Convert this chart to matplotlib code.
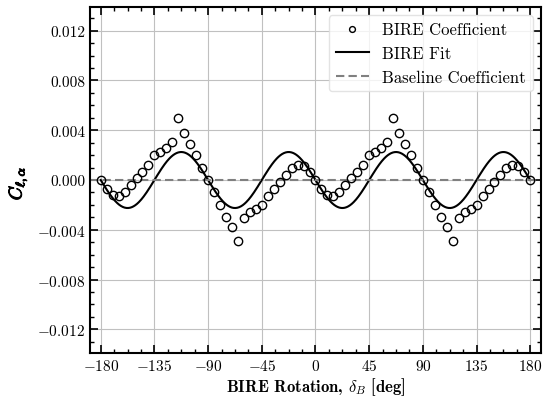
import matplotlib.pyplot as plt
import matplotlib.patheffects as pe
import numpy as np
from matplotlib.ticker import MultipleLocator

plt.rcParams["font.family"] = "serif"
plt.rcParams["font.serif"] = ["cmr10"]
plt.rcParams["mathtext.fontset"] = "cm"
plt.rcParams["axes.formatter.use_mathtext"] = True
plt.rcParams["axes.unicode_minus"] = True

# BIRE rotation angle [deg], one point every 5 deg
delta_b = np.arange(-180, 181, 5)

c_bire = [
    0.0, -0.00072, -0.00118, -0.00129, -0.00099, -0.00043, 0.00014, 0.00067,
    0.00121, 0.00198, 0.00225, 0.00258, 0.00303, 0.00502, 0.00378, 0.00293,
    0.00199, 0.00097, 0.0, -0.00099, -0.00199, -0.00295, -0.00378, -0.00494,
    -0.00306, -0.00255, -0.00233, -0.00201, -0.00126, -0.00072, -0.00019,
    0.00043, 0.00097, 0.00123, 0.0011, 0.00067,
    0.0, -0.00072, -0.00118, -0.00129, -0.00099, -0.00043, 0.00014, 0.00067,
    0.00121, 0.00198, 0.00225, 0.00258, 0.00303, 0.00502, 0.00378, 0.00293,
    0.00199, 0.00097, 0.0, -0.00099, -0.00199, -0.00295, -0.00378, -0.00494,
    -0.00306, -0.00255, -0.00233, -0.00201, -0.00126, -0.00072, -0.00019,
    0.00043, 0.00097, 0.00123, 0.0011, 0.00067, 0.0,
]

# fit: C = -A sin(4 delta)
fit_amplitude = 0.00225
fit_harmonic = 4
baseline = 0.0

delta_fine = np.linspace(-180, 180, 721)
c_fit = -fit_amplitude * np.sin(np.radians(fit_harmonic * delta_fine))

fig = plt.figure(figsize=(5.44, 4.02), dpi=100)
ax = fig.add_axes([0.1654, 0.1194, 0.8291, 0.8606])

ax.plot(delta_b, c_bire, "o", mfc="none", mec="black", ms=6, mew=1.0,
        label="BIRE Coefficient", zorder=3)
ax.plot(delta_fine, c_fit, "-", color="black", lw=1.5, label="BIRE Fit", zorder=2)
ax.axhline(baseline, color="#808080", ls="--", lw=1.5, dashes=(4, 2),
           label="Baseline Coefficient", zorder=2)

ax.set_xlim(-189, 189)
ax.set_ylim(-0.0139, 0.0139)
ax.xaxis.set_major_locator(MultipleLocator(45))
ax.xaxis.set_minor_locator(MultipleLocator(11.25))
ax.yaxis.set_major_locator(MultipleLocator(0.004))
ax.yaxis.set_minor_locator(MultipleLocator(0.001))
ax.yaxis.set_major_formatter(plt.FuncFormatter(
    lambda v, p: ("$-$" if v < -1e-9 else "") + "%.3f" % abs(v)))

ax.tick_params(which="both", direction="in", top=True, right=True, labelsize=11)
ax.tick_params(which="major", length=6, width=1.2)
ax.tick_params(which="minor", length=3, width=1.0)
for s in ax.spines.values():
    s.set_linewidth(1.5)
ax.grid(True, color="#c0c0c0", lw=0.8)

ax.set_xlabel(r"BIRE Rotation, $\delta_B$ [deg]", fontsize=12,
              family="cmb10", labelpad=2)
ax.set_ylabel(r"$C_{\ell,\alpha}$", fontsize=13,
              path_effects=[pe.withStroke(linewidth=0.8, foreground="black")])
ax.yaxis.set_label_coords(-0.135, 0.49)

ax.legend(loc="upper right", fontsize=12, framealpha=0.8, edgecolor="#dddddd",
          markerscale=0.7)

plt.savefig("out.png", dpi=100)
